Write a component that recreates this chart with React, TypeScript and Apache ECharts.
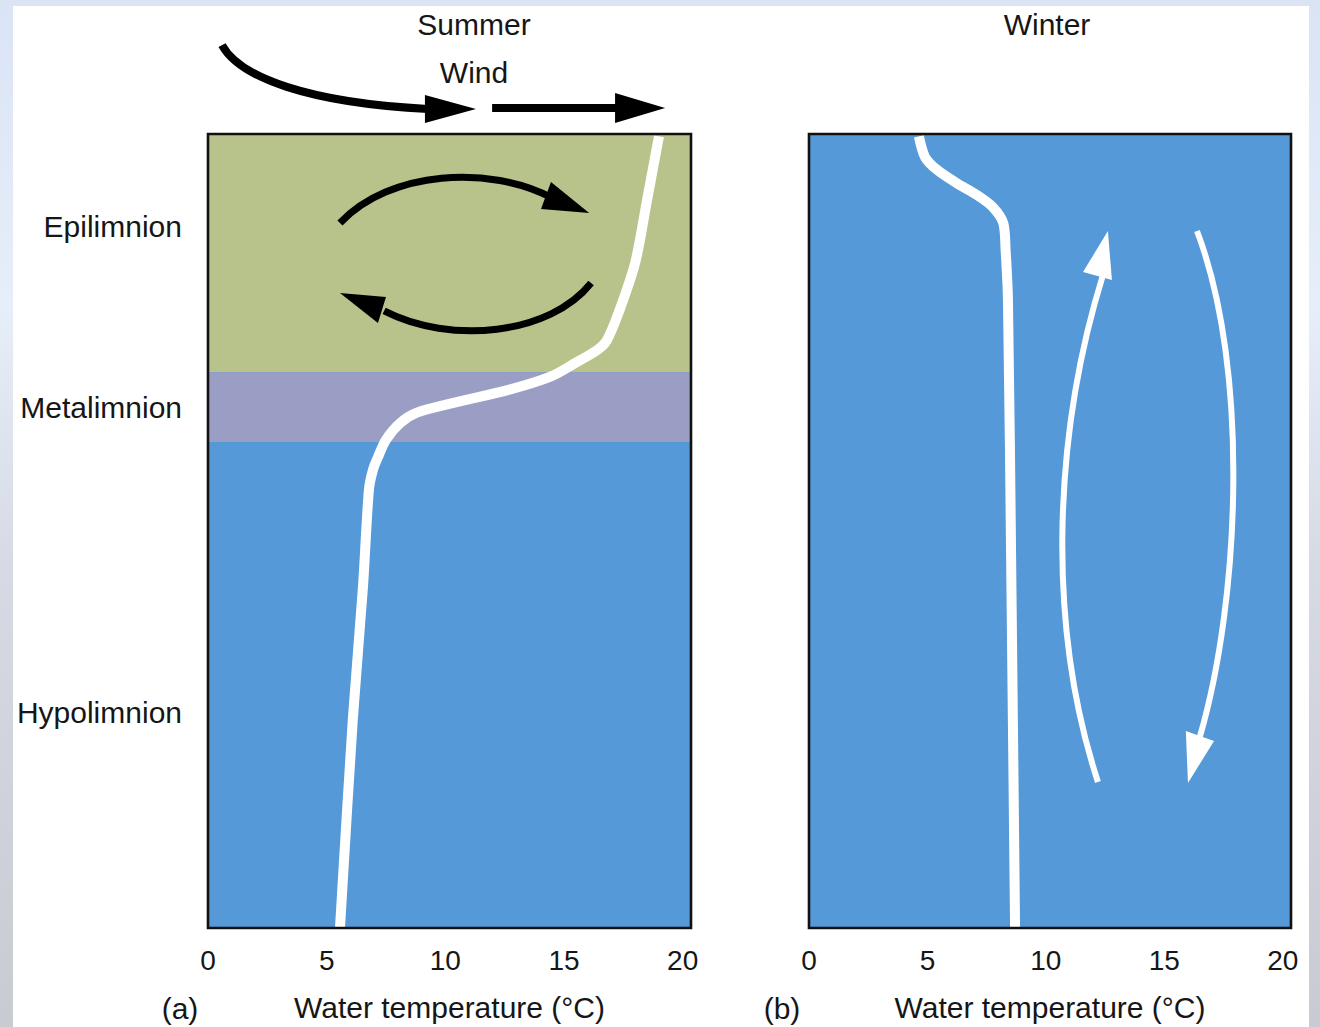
import React, { useEffect, useRef } from "react";
import * as echarts from "echarts";

// ---- data ----
const summerTemp = [19.0, 18.5, 18.0, 17.3, 16.8, 16.4, 15.5, 14.4, 12.7, 10.3, 8.8, 8.1, 7.5, 7.16, 6.95, 6.78, 6.53, 6.1, 5.56];
const summerDepth = [0.3, 8.3, 16.2, 22.5, 26, 27.2, 28.8, 30.6, 32.2, 33.9, 35.1, 36.4, 38.5, 40.7, 42.3, 44.8, 57, 73.8, 100];
const winterTemp = [4.64, 4.9, 5.4, 6.24, 7.1, 7.76, 8.2, 8.3, 8.4, 8.55, 8.7];
const winterDepth = [0.3, 2.9, 4.5, 6.2, 7.7, 9.2, 11.2, 14.6, 20.9, 58, 100];

const zoneNames = ["Epilimnion", "Metalimnion", "Hypolimnion"];
const zoneTop = [0, 30, 38.8];
const zoneBottom = [30, 38.8, 100];
const zoneColors = ["#b8c38c", "#9a9ec5", "#5599d8"];
const zoneLabelDepth = [11.7, 34.4, 72.9];

const tickValues = [5, 10, 15];
const labelValues = [0, 5, 10, 15, 20];
const X_MAX = 20.35;

// annotation arrows in (temperature, depth) units
// bezier: [start, cp1, cp2, end], head: [base1, tip, base2]
const windCurve = [[0.59, -11.2], [1.35, -7.05], [4.3, -3.9], [9.27, -3.15]];
const windCurveHead = [[9.14, -4.91], [11.29, -3.15], [9.14, -1.39]];
const windStraight = [[11.97, -3.27], [17.3, -3.27]];
const windStraightHead = [[17.15, -5.16], [19.26, -3.27], [17.15, -1.39]];
const mixTop = [[5.56, 11.21], [7.67, 4.53], [11.88, 3.9], [14.5, 8.06]];
const mixTopHead = [[14.45, 6.05], [16.06, 9.95], [14.03, 9.45]];
const mixBottom = [[16.14, 18.77], [14.41, 25.31], [10.2, 26.57], [7.42, 22.29]];
const mixBottomHead = [[7.5, 20.53], [5.56, 20.03], [7.16, 23.8]];
const winterUp = [[12.2, 81.61], [9.96, 61.21], [10.38, 37.28], [12.41, 17.76]];
const winterUpHead = [[11.57, 17.38], [12.62, 12.22], [12.79, 18.39]];
const winterDown = [[16.38, 12.22], [18.62, 29.72], [18.19, 58.69], [16.5, 75.94]];
const winterDownHead = [[15.91, 75.19], [16.0, 81.74], [17.1, 76.45]];

const FONT = "'Liberation Sans', Arial, Helvetica, sans-serif";
const TEXT = "#161616";
const FS = 30;

export default function App() {
  const ref = useRef<HTMLDivElement>(null);
  useEffect(() => {
    if (!ref.current) return;
    const chart = echarts.init(ref.current, undefined, { renderer: "svg" });
    const grids = [
      { left: 208, top: 134, width: 483, height: 794 },
      { left: 809, top: 134, width: 482, height: 794 },
    ];
    const option: any = {
      animation: false,
      backgroundColor: "transparent",
      grid: grids.map((g) => ({ ...g, show: true, backgroundColor: zoneColors[2], borderWidth: 0 })),
      xAxis: [0, 1].map((i) => ({
        type: "value",
        gridIndex: i,
        min: 0,
        max: X_MAX,
        position: "bottom",
        z: 10,
        axisLine: { show: false },
        splitLine: { show: false },
        axisTick: { show: true, inside: true, customValues: tickValues, length: 9, lineStyle: { color: "#ffffff", width: 2 } },
        axisLabel: { customValues: labelValues, margin: 18, fontSize: 28, color: TEXT, fontFamily: FONT },
        name: "Water temperature (°C)",
        nameLocation: "middle",
        nameGap: 64,
        nameTextStyle: { fontSize: FS, color: TEXT, fontFamily: FONT },
      })),
      yAxis: [0, 1].map((i) => ({
        type: "value",
        gridIndex: i,
        min: 0,
        max: 100,
        inverse: true,
        axisLine: { show: false },
        axisTick: { show: false },
        splitLine: { show: false },
        axisLabel:
          i === 0
            ? {
                customValues: zoneLabelDepth,
                formatter: (v: number) => zoneNames[zoneLabelDepth.indexOf(v)] ?? "",
                margin: 26,
                fontSize: FS,
                color: TEXT,
                fontFamily: FONT,
              }
            : { show: false },
      })),
      series: [
        {
          type: "line",
          xAxisIndex: 0,
          yAxisIndex: 0,
          data: [],
          z: 1,
          markArea: {
            silent: true,
            label: { show: false },
            data: [0, 1].map((k) => [
              { yAxis: zoneTop[k], itemStyle: { color: zoneColors[k], opacity: 1 } },
              { yAxis: zoneBottom[k] },
            ]),
          },
        },
        {
          type: "line",
          name: "Summer",
          xAxisIndex: 0,
          yAxisIndex: 0,
          z: 5,
          smooth: 0.3,
          showSymbol: false,
          symbol: "none",
          lineStyle: { color: "#ffffff", width: 10, cap: "butt", join: "round" },
          data: summerTemp.map((t, i) => [t, summerDepth[i]]),
        },
        {
          type: "line",
          name: "Winter",
          xAxisIndex: 1,
          yAxisIndex: 1,
          z: 5,
          smooth: 0.3,
          showSymbol: false,
          symbol: "none",
          lineStyle: { color: "#ffffff", width: 10, cap: "butt", join: "round" },
          data: winterTemp.map((t, i) => [t, winterDepth[i]]),
        },
      ],
    };
    chart.setOption(option);

    const px = (g: number, p: number[]) => chart.convertToPixel({ gridIndex: g }, p) as number[];
    const curve = (g: number, pts: number[][], color: string, width: number) => {
      const [a, b, c, d] = pts.map((p) => px(g, p));
      return {
        type: "bezierCurve",
        z: 20,
        silent: true,
        shape: { x1: a[0], y1: a[1], cpx1: b[0], cpy1: b[1], cpx2: c[0], cpy2: c[1], x2: d[0], y2: d[1] },
        style: { stroke: color, lineWidth: width, fill: "none", lineCap: "butt" },
      };
    };
    const line = (g: number, pts: number[][], color: string, width: number) => {
      const [a, b] = pts.map((p) => px(g, p));
      return {
        type: "line",
        z: 20,
        silent: true,
        shape: { x1: a[0], y1: a[1], x2: b[0], y2: b[1] },
        style: { stroke: color, lineWidth: width, lineCap: "butt" },
      };
    };
    const head = (g: number, pts: number[][], color: string) => ({
      type: "polygon",
      z: 21,
      silent: true,
      shape: { points: pts.map((p) => px(g, p)) },
      style: { fill: color },
    });
    const frame = (g: number) => {
      const a = px(g, [0, 0]);
      const b = px(g, [X_MAX, 100]);
      return {
        type: "rect",
        z: 30,
        silent: true,
        shape: { x: a[0], y: a[1], width: b[0] - a[0], height: b[1] - a[1] },
        style: { fill: "none", stroke: "#111111", lineWidth: 2.6 },
      };
    };
    const text = (x: number, y: number, s: string, align = "center") => ({
      type: "text",
      z: 30,
      silent: true,
      x,
      y,
      style: { text: s, fontSize: FS, fontFamily: FONT, fill: TEXT, align, verticalAlign: "middle" },
    });

    chart.setOption({
      graphic: [
        { type: "rect", z: -10, silent: true, shape: { x: 13, y: 6, width: 1296, height: 1030 }, style: { fill: "#ffffff" } },
        frame(0),
        frame(1),
        curve(0, windCurve, "#000000", 8),
        head(0, windCurveHead, "#000000"),
        line(0, windStraight, "#000000", 8),
        head(0, windStraightHead, "#000000"),
        curve(0, mixTop, "#000000", 7),
        head(0, mixTopHead, "#000000"),
        curve(0, mixBottom, "#000000", 7),
        head(0, mixBottomHead, "#000000"),
        curve(1, winterUp, "#ffffff", 6),
        head(1, winterUpHead, "#ffffff"),
        curve(1, winterDown, "#ffffff", 6),
        head(1, winterDownHead, "#ffffff"),
        text(474, 24, "Summer"),
        text(474, 72, "Wind"),
        text(1047, 24, "Winter"),
        text(180, 1008, "(a)"),
        text(782, 1008, "(b)"),
      ],
    });

    return () => chart.dispose();
  }, []);

  return (
    <div
      style={{
        position: "absolute",
        left: 0,
        top: 0,
        width: 1320,
        height: 1027,
        overflow: "hidden",
        background: "linear-gradient(to bottom, #dbe4f5 0%, #e6eefa 30%, #d6dae4 55%, #c9cbd2 100%)",
      }}
    >
      <div ref={ref} style={{ width: 1320, height: 1027 }} />
    </div>
  );
}
